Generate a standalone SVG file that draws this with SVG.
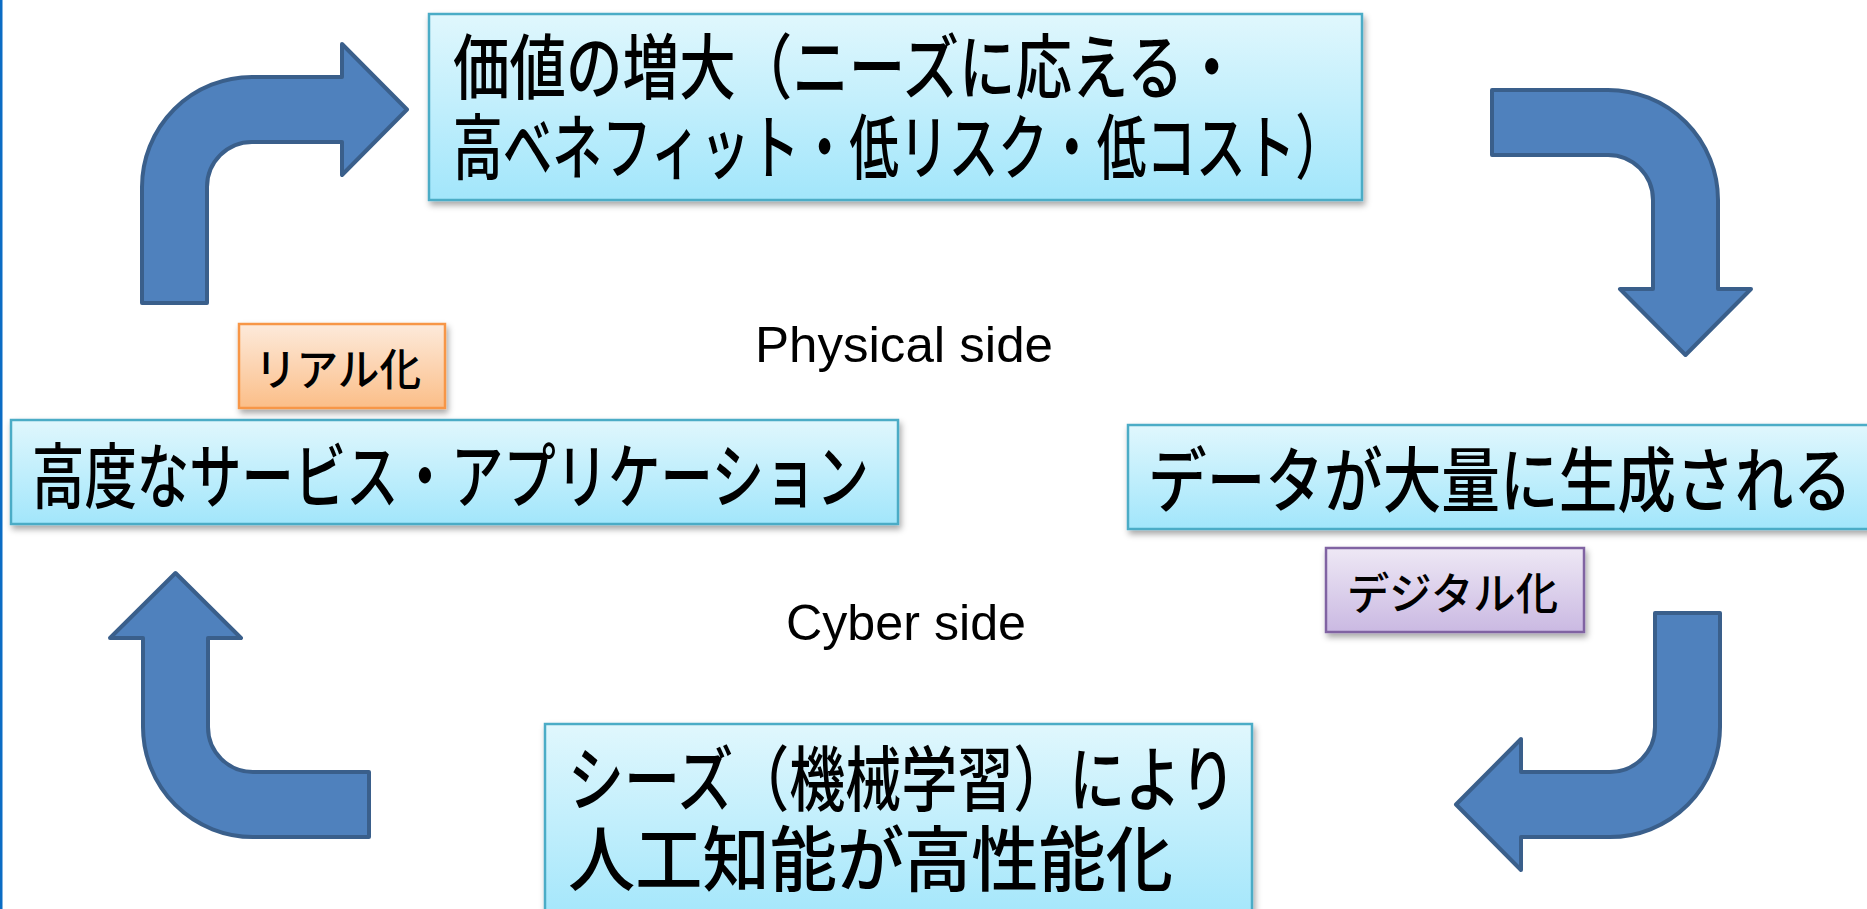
<svg xmlns="http://www.w3.org/2000/svg" width="1867" height="909" viewBox="0 0 1867 909">
<style>
.arrow{fill:#4F81BD;stroke:#3A5F8B;stroke-width:4;stroke-linejoin:round}
.jp{font-family:"Noto Sans CJK JP","Noto Sans CJK SC",sans-serif;fill:#000;font-weight:500}
.big{font-size:71px}
.lbl{font-size:44px}
.en{font-family:"Liberation Sans",Arial,sans-serif;font-size:50px;fill:#000}
.aqua{fill:url(#gAqua);stroke:#4BACC6;stroke-width:2.5}
.orange{fill:url(#gOrange);stroke:#F79646;stroke-width:2.5}
.purple{fill:url(#gPurple);stroke:#8064A2;stroke-width:2.5}
</style>
<defs>
<linearGradient id="gAqua" x1="0" y1="0" x2="0" y2="1">
<stop offset="0" stop-color="#E0F7FD"/><stop offset="1" stop-color="#A2E6FB"/>
</linearGradient>
<linearGradient id="gOrange" x1="0" y1="0" x2="0" y2="1">
<stop offset="0" stop-color="#FDEADB"/><stop offset="1" stop-color="#FBBE88"/>
</linearGradient>
<linearGradient id="gPurple" x1="0" y1="0" x2="0" y2="1">
<stop offset="0" stop-color="#EEE8F5"/><stop offset="1" stop-color="#CAB9E2"/>
</linearGradient>
<filter id="sh" x="-5%" y="-10%" width="115%" height="130%">
<feDropShadow dx="2" dy="4" stdDeviation="3" flood-color="#000" flood-opacity="0.35"/>
</filter>
</defs>
<rect x="0" y="0" width="1867" height="909" fill="#FFFFFF"/>
<rect x="0" y="0" width="2.5" height="909" fill="#0B6CC4"/>

<g id="connectors">
<path class="arrow" d="M142,303 L142,187 A110,110 0 0 1 252,77 L342,77 L342,44 L407,109.5 L342,175 L342,142 L252,142 A45,45 0 0 0 207,187 L207,303 Z"/>
<path class="arrow" d="M1492,90 L1608,90 A110,110 0 0 1 1718,200 L1718,289 L1751,289 L1685.5,355 L1620,289 L1653,289 L1653,200 A45,45 0 0 0 1608,155 L1492,155 Z"/>
<path class="arrow" d="M1655,613 L1720,613 L1720,727 A110,110 0 0 1 1610,837 L1521,837 L1521,870 L1456,804.5 L1521,739 L1521,772 L1610,772 A45,45 0 0 0 1655,727 Z"/>
<path class="arrow" d="M369,837 L253,837 A110,110 0 0 1 143,727 L143,638 L110,638 L175.5,573 L241,638 L208,638 L208,727 A45,45 0 0 0 253,772 L369,772 Z"/>
</g>

<g id="node-value">
<rect class="aqua" x="429" y="14" width="933" height="186" filter="url(#sh)"/>
<text class="jp big" x="453" y="93" textLength="787" lengthAdjust="spacingAndGlyphs">価値の増大（ニーズに応える・</text>
<text class="jp big" x="453" y="173" textLength="892" lengthAdjust="spacingAndGlyphs">高ベネフィット・低リスク・低コスト）</text>
</g>

<g id="node-data">
<rect class="aqua" x="1128" y="425" width="760" height="104" filter="url(#sh)"/>
<text class="jp big" x="1148" y="506" textLength="704" lengthAdjust="spacingAndGlyphs">データが大量に生成される</text>
</g>

<g id="node-digital">
<rect class="purple" x="1326" y="548" width="258" height="84" filter="url(#sh)"/>
<text class="jp lbl" x="1347" y="610" textLength="211" lengthAdjust="spacingAndGlyphs">デジタル化</text>
</g>

<g id="node-ai">
<rect class="aqua" x="545" y="724" width="707" height="200" filter="url(#sh)"/>
<text class="jp big" x="568" y="805" textLength="668" lengthAdjust="spacingAndGlyphs">シーズ（機械学習）により</text>
<text class="jp big" x="568" y="885" textLength="605" lengthAdjust="spacingAndGlyphs">人工知能が高性能化</text>
</g>

<g id="node-service">
<rect class="aqua" x="11" y="420" width="887" height="104" filter="url(#sh)"/>
<text class="jp big" x="32" y="502" textLength="837" lengthAdjust="spacingAndGlyphs">高度なサービス・アプリケーション</text>
</g>

<g id="node-real">
<rect class="orange" x="239" y="324" width="206" height="84" filter="url(#sh)"/>
<text class="jp lbl" x="255" y="386" textLength="166" lengthAdjust="spacingAndGlyphs">リアル化</text>
</g>

<g id="label-physical">
<text class="en" x="755" y="362" textLength="298" lengthAdjust="spacingAndGlyphs">Physical side</text>
</g>
<g id="label-cyber">
<text class="en" x="786" y="640" textLength="240" lengthAdjust="spacingAndGlyphs">Cyber side</text>
</g>
</svg>
